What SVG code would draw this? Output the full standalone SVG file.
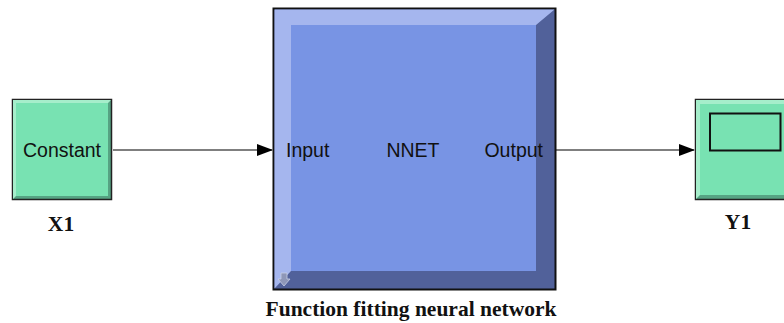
<svg xmlns="http://www.w3.org/2000/svg" width="784" height="323" viewBox="0 0 784 323">
<defs>
<style>
.lbl{font-family:"Liberation Sans",Arial,sans-serif;font-size:19.5px;fill:#111}
.cap{font-family:"Liberation Serif","Times New Roman",serif;font-size:21.5px;font-weight:bold;fill:#111}
.wire{stroke:#000;stroke-width:1.2;fill:none}
</style>
<marker id="ah" markerWidth="16" markerHeight="12" refX="15" refY="6" orient="auto" markerUnits="userSpaceOnUse">
<path d="M0,0 L16,6 L0,12 Z" fill="#000"/>
</marker>
</defs>
<rect width="784" height="323" fill="#fff"/>
<g id="connectors">
<path class="wire" d="M113,150 L272,150" marker-end="url(#ah)"/>
<path class="wire" d="M556,150 L694,150" marker-end="url(#ah)"/>
</g>
<g id="X1">
<rect x="12.5" y="99.5" width="99" height="100" fill="#56a383" stroke="#222" stroke-width="1.5"/>
<polygon points="13,100 111,100 108,103 16,103 16,196 13,199" fill="#a6eecb"/>
<rect x="16" y="103" width="92" height="93" fill="#78e2b2"/>
<text class="lbl" x="62" y="157" text-anchor="middle">Constant</text>
<text class="cap" x="61" y="231" text-anchor="middle">X1</text>
</g>
<g id="NNET">
<rect x="273.5" y="8.5" width="282" height="281" fill="#51619a" stroke="#111" stroke-width="2"/>
<polygon points="274.5,9.5 554.5,9.5 536,25 291,25 291,271 274.5,288.5" fill="#a5b6ee"/>
<rect x="291" y="25" width="245" height="246" fill="#7894e4"/>
<path d="M281,273 h6 v6 h3 l-6,7 l-6,-7 h3 Z" fill="#8e97b8" stroke="#c8cfe6" stroke-width="0.8"/>
<text class="lbl" x="286" y="157">Input</text>
<text class="lbl" x="413" y="157" text-anchor="middle">NNET</text>
<text class="lbl" x="543" y="157" text-anchor="end">Output</text>
<text class="cap" x="411" y="316" text-anchor="middle">Function fitting neural network</text>
</g>
<g id="Y1">
<rect x="695.5" y="99.5" width="100" height="100" fill="#56a383" stroke="#222" stroke-width="1.5"/>
<polygon points="696,100 784,100 784,104 700,104 700,195 696,199" fill="#a6eecb"/>
<rect x="700" y="104" width="84" height="91" fill="#78e2b2"/>
<rect x="710" y="113.5" width="70.5" height="37" fill="none" stroke="#111" stroke-width="2"/>
<text class="cap" x="738" y="229" text-anchor="middle">Y1</text>
</g>
</svg>
